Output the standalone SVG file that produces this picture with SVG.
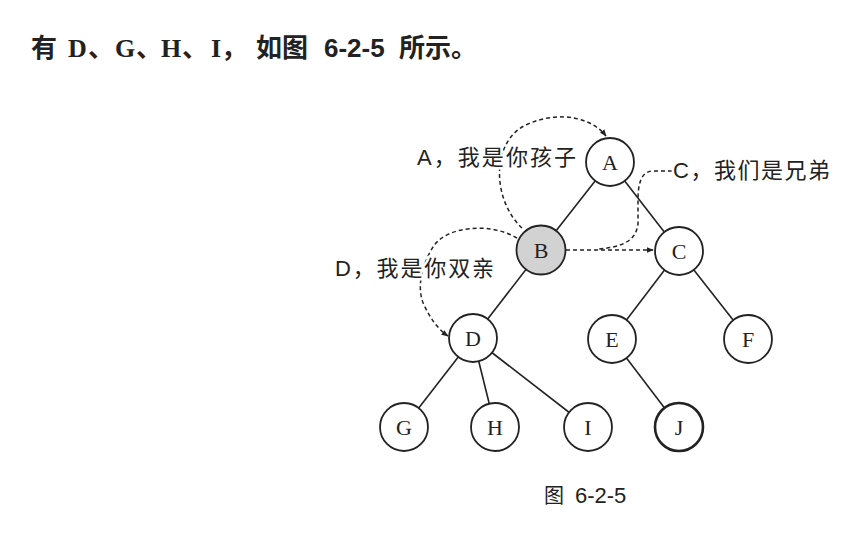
<svg xmlns="http://www.w3.org/2000/svg" width="860" height="539" viewBox="0 0 860 539">
<style>
.bg{fill:#fff}
.edge{stroke:#222;stroke-width:1.6;fill:none}
.dash{stroke:#222;stroke-width:1.5;fill:none;stroke-dasharray:4 3}
.node circle{fill:#fff;stroke:#222;stroke-width:1.8}
.node text{font-family:"Liberation Serif","Noto Sans CJK SC",serif;font-size:22px;fill:#222;text-anchor:middle}
.lbl{font-family:"Liberation Sans","Noto Sans CJK SC",sans-serif;font-size:22px;fill:#222;stroke:#fff;stroke-width:5;paint-order:stroke;stroke-linejoin:round}
.head{font-family:"Liberation Serif","Noto Sans CJK SC",serif;font-size:26px;fill:#222;font-weight:bold}
.cap{font-family:"Liberation Sans","Noto Sans CJK SC",sans-serif;font-size:20px;fill:#222}
</style>
<defs>
<marker id="arr" viewBox="0 0 10 10" refX="9" refY="5" markerWidth="7" markerHeight="7" orient="auto" markerUnits="userSpaceOnUse">
<path d="M0,1 L10,5 L0,9 Z" fill="#222"/>
</marker>
</defs>
<rect class="bg" x="0" y="0" width="860" height="539"/>
<text class="head" y="57"><tspan x="31">有</tspan><tspan x="68">D</tspan><tspan x="88">、</tspan><tspan x="115">G</tspan><tspan x="136">、</tspan><tspan x="161">H</tspan><tspan x="182">、</tspan><tspan x="211">I</tspan><tspan x="221">，</tspan><tspan x="256">如图</tspan><tspan x="324" font-family="Liberation Sans, sans-serif">6-2-5</tspan><tspan x="399">所示。</tspan></text>

<g id="connectors">
<line class="edge" x1="610" y1="162" x2="541" y2="250"/>
<line class="edge" x1="610" y1="162" x2="679" y2="251"/>
<line class="edge" x1="541" y1="250" x2="473" y2="338"/>
<line class="edge" x1="679" y1="251" x2="612" y2="339"/>
<line class="edge" x1="679" y1="251" x2="748" y2="339"/>
<line class="edge" x1="473" y1="338" x2="404" y2="427"/>
<line class="edge" x1="473" y1="338" x2="495" y2="427"/>
<line class="edge" x1="473" y1="338" x2="588" y2="427"/>
<line class="edge" x1="612" y1="339" x2="679" y2="427"/>
<path class="dash" d="M522,228 C492,200 490,140 528,124 C560,110 592,118 606,136" marker-end="url(#arr)"/>
<path class="dash" d="M566,250 L653,250" marker-end="url(#arr)"/>
<path class="dash" d="M672,171 L652,171 C641,172 638,184 638,200 L638,224 C636,240 624,247 598,249"/>
<path class="dash" d="M517,238 C490,222 446,226 433,247 C420,268 417,290 424,305 C431,320 439,330 448,336" marker-end="url(#arr)"/>
</g>

<text class="lbl" x="417" y="165" textLength="159" lengthAdjust="spacing">A，我是你孩子</text>
<text class="lbl" x="673" y="178" textLength="157" lengthAdjust="spacing">C，我们是兄弟</text>
<text class="lbl" x="335" y="276" textLength="159" lengthAdjust="spacing">D，我是你双亲</text>

<g id="node-A" class="node"><circle cx="610" cy="162" r="24"/><text x="610" y="170">A</text></g>
<g id="node-B" class="node"><circle cx="541" cy="250" r="24.5" style="fill:#d2d2d2"/><text x="541" y="258">B</text></g>
<g id="node-C" class="node"><circle cx="679" cy="251" r="24"/><text x="679" y="259">C</text></g>
<g id="node-D" class="node"><circle cx="473" cy="338" r="24"/><text x="473" y="346">D</text></g>
<g id="node-E" class="node"><circle cx="612" cy="339" r="24"/><text x="612" y="347">E</text></g>
<g id="node-F" class="node"><circle cx="748" cy="339" r="24"/><text x="748" y="347">F</text></g>
<g id="node-G" class="node"><circle cx="404" cy="427" r="24"/><text x="404" y="435">G</text></g>
<g id="node-H" class="node"><circle cx="495" cy="427" r="24"/><text x="495" y="435">H</text></g>
<g id="node-I" class="node"><circle cx="588" cy="427" r="24"/><text x="588" y="435">I</text></g>
<g id="node-J" class="node"><circle cx="679" cy="427" r="24" style="stroke-width:2.6"/><text x="679" y="435">J</text></g>

<text class="cap" y="503"><tspan x="544">图</tspan><tspan x="575" font-size="22">6-2-5</tspan></text>
</svg>
